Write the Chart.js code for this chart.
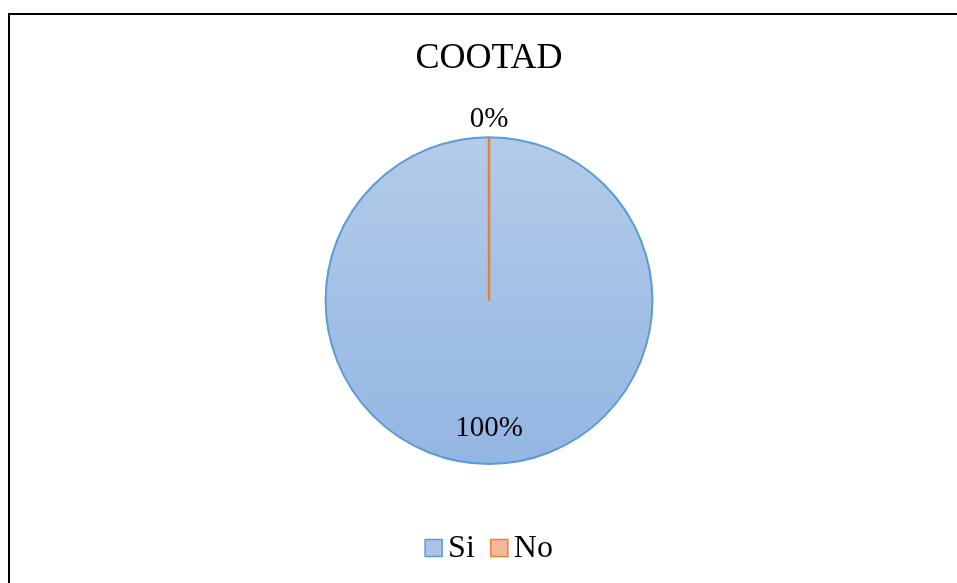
<!DOCTYPE html>
<html>
<head>
<meta charset="utf-8">
<script src="https://cdn.jsdelivr.net/npm/chart.js@4.4.1/dist/chart.umd.min.js"></script>
<style>
  html, body { margin: 0; padding: 0; width: 957px; height: 583px; overflow: hidden; background: #fff; }
  #frame { position: absolute; left: 8px; top: 13px; width: 1000px; height: 700px; border-left: 2px solid #000; border-top: 2px solid #000; }
  #wrap { position: absolute; left: 0; top: 0; width: 957px; height: 583px; }
</style>
</head>
<body>
<div id="frame"></div>
<div id="wrap"><canvas id="chart" width="957" height="583"></canvas></div>
<script>
const categorias = ['Si', 'No'];
const valores = [100, 0];
const titulo = 'COOTAD';

const colorBorde = ['#5b9bd5', '#ed7d31'];
const colorLeyenda = ['#a9c4e7', '#f6b89a'];

// etiquetas de porcentaje: dentro para Si, fuera para No
const etiquetasPlugin = {
  id: 'etiquetas',
  afterDatasetsDraw(chart) {
    const { ctx } = chart;
    const meta = chart.getDatasetMeta(0);
    const total = valores.reduce((a, b) => a + b, 0);
    ctx.save();

    // linea del sector de 0%
    meta.data.forEach((arc, i) => {
      if (valores[i] === 0) {
        const { x, y, startAngle, outerRadius } = arc.getProps(['x', 'y', 'startAngle', 'outerRadius'], true);
        ctx.strokeStyle = colorBorde[i];
        ctx.lineWidth = 2.5;
        ctx.beginPath();
        ctx.moveTo(x, y);
        ctx.lineTo(x + Math.cos(startAngle) * outerRadius, y + Math.sin(startAngle) * outerRadius);
        ctx.stroke();
      }
    });

    ctx.font = '29px "Liberation Serif"';
    ctx.fillStyle = '#000';
    ctx.textAlign = 'center';
    ctx.textBaseline = 'middle';
    meta.data.forEach((arc, i) => {
      const { x, y, startAngle, endAngle, outerRadius } = arc.getProps(['x', 'y', 'startAngle', 'endAngle', 'outerRadius'], true);
      const mid = (startAngle + endAngle) / 2;
      const r = valores[i] === 0 ? outerRadius + 18 : outerRadius * 0.78;
      const pct = Math.round(valores[i] / total * 100) + '%';
      ctx.fillText(pct, x + Math.cos(mid) * r, y + Math.sin(mid) * r);
    });
    ctx.restore();
  }
};

// leyenda propia para controlar el espaciado
const leyendaPlugin = {
  id: 'leyenda',
  afterDraw(chart) {
    const { ctx, chartArea } = chart;
    ctx.save();
    ctx.font = '32px "Liberation Serif"';
    ctx.textBaseline = 'middle';
    const box = 17, gap = 6, sep = 16;
    const anchos = categorias.map(c => box + gap + ctx.measureText(c).width);
    const total = anchos.reduce((a, b) => a + b, 0) + sep * (categorias.length - 1);
    let x = (chartArea.left + chartArea.right) / 2 - total / 2;
    const y = 548;
    categorias.forEach((c, i) => {
      ctx.fillStyle = colorLeyenda[i];
      ctx.fillRect(x, y - box / 2, box, box);
      ctx.strokeStyle = colorBorde[i];
      ctx.lineWidth = 1.5;
      ctx.strokeRect(x, y - box / 2, box, box);
      ctx.fillStyle = '#000';
      ctx.fillText(c, x + box + gap, y + 1);
      x += anchos[i] + sep;
    });
    ctx.restore();
  }
};

function relleno(context) {
  const chart = context.chart;
  const area = chart.chartArea;
  if (!area) return '#a3c0e6';
  if (context.dataIndex === 1) return '#f6b89a';
  const g = chart.ctx.createLinearGradient(0, area.top, 0, area.bottom);
  g.addColorStop(0, '#b3cbe9');
  g.addColorStop(1, '#93b6e2');
  return g;
}

new Chart(document.getElementById('chart'), {
  type: 'pie',
  data: {
    labels: categorias,
    datasets: [{
      data: valores,
      backgroundColor: relleno,
      borderColor: colorBorde,
      borderWidth: 2
    }]
  },
  plugins: [etiquetasPlugin, leyendaPlugin],
  options: {
    responsive: false,
    animation: false,
    layout: { padding: { left: 21, right: 0, top: 0, bottom: 118 } },
    plugins: {
      legend: { display: false },
      tooltip: { enabled: false },
      title: {
        display: true,
        text: titulo,
        color: '#000',
        font: { family: 'Liberation Serif', size: 36, weight: 'normal' },
        padding: { top: 37, bottom: 56 }
      }
    }
  }
});
</script>
</body>
</html>
